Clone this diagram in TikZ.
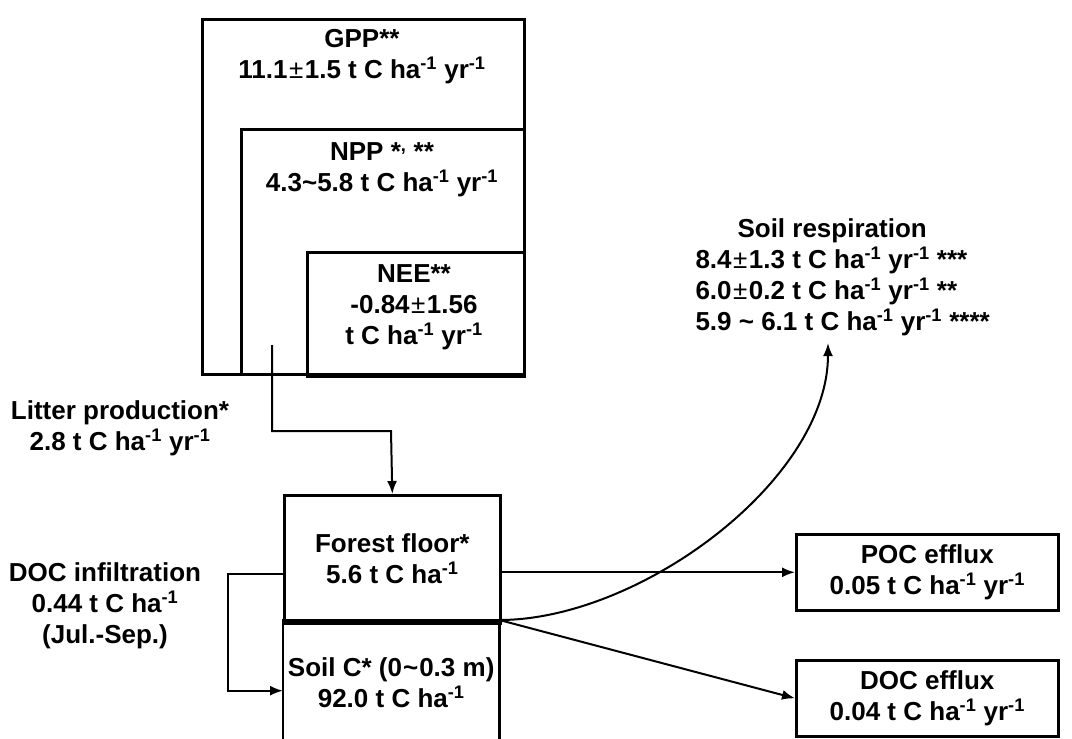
\documentclass[tikz,border=0pt]{standalone}
\usepackage{fontspec}
\setmainfont{Liberation Sans}
\usetikzlibrary{arrows.meta}

\tikzset{
  box/.style={draw, line width=2.6pt, inner sep=0pt, anchor=north west},
  lbl/.style={align=center, font=\fontsize{26}{31}\selectfont\bfseries},
  flow/.style={line width=2pt, -{Latex[length=13pt,width=10pt]}},
}
\newcommand{\inv}{\textsuperscript{-1}}
\newcommand{\plm}{\kern1.5pt{\mdseries±}\kern1.5pt}

\begin{document}
\begin{tikzpicture}[x=1pt,y=-1pt]
  \useasboundingbox (0,0) rectangle (1072,739);

  % nested canopy boxes
  \node[box, minimum width=322pt, minimum height=355pt] (gpp) at (201,18) {};
  \node[box, minimum width=283pt, minimum height=245pt] (npp) at (240,128) {};
  \node[box, minimum width=217pt, minimum height=122pt] (nee) at (306,251) {};
  \draw[line width=4.5pt] (nee.south west) -- (nee.south east);

  \node[lbl] (gpptxt) at (362,57) {GPP**\\11.1\plm1.5 t C ha\inv{} yr\inv};
  \node[lbl] (npptxt) at (382,170) {NPP *\textsuperscript{,} **\\4.3\textasciitilde5.8 t C ha\inv{} yr\inv};
  \node[lbl] (neetxt) at (414,307) {NEE**\\-0.84\plm1.56\\t C ha\inv{} yr\inv};

  % forest floor and soil
  \node[box, lbl, minimum width=216pt, minimum height=126pt] (floor) at (283,494) {Forest floor*\\5.6 t C ha\inv};
  \node[lbl, inner sep=0pt, anchor=north west, minimum width=216pt, minimum height=125pt] (soil) at (283,620) {Soil C* (0\kern1pt\textasciitilde\kern1pt0.3 m)\\92.0 t C ha\inv};
  \draw[line width=2.6pt] (soil.south west) -- (soil.north west) -- (soil.north east) -- (soil.south east);
  \draw[line width=4.5pt] (floor.south west) -- (floor.south east);

  % outflow boxes
  \node[box, lbl, minimum width=262pt, minimum height=76pt] (poc) at (795,533) {POC efflux\\0.05 t C ha\inv{} yr\inv};
  \node[box, lbl, minimum width=262pt, minimum height=76pt] (doc) at (795,659) {DOC efflux\\0.04 t C ha\inv{} yr\inv};

  % flux labels
  \node[lbl] (litter) at (120,428) {Litter production*\\2.8 t C ha\inv{} yr\inv};
  \node[lbl] (infil) at (105,606) {DOC infiltration\\0.44 t C ha\inv\\(Jul.-Sep.)};
  \node[lbl, align=left, anchor=north west] (resp) at (692,215) {\hspace*{42pt}Soil respiration\\
    8.4\plm1.3 t C ha\inv{} yr\inv{} ***\\
    6.0\plm0.2 t C ha\inv{} yr\inv{} **\\
    5.9 \textasciitilde{} 6.1 t C ha\inv{} yr\inv{} ****};

  \coordinate (littop) at (272,345);
  \coordinate (resptip) at (828,343);

  % fluxes
  \draw[flow] (littop) |- (391,431) -- (floor.north);
  \draw[flow] ([yshift=-16pt]floor.west) -- ++(-55,0) |- ([yshift=-8pt]soil.west);
  \draw[flow] (floor.east |- poc.west) -- (poc.west);
  \draw[flow] (soil.north east) -- (doc.west);
  \draw[flow] (soil.north east) .. controls (640,620) and (828,480) .. (resptip);
\end{tikzpicture}
\end{document}
